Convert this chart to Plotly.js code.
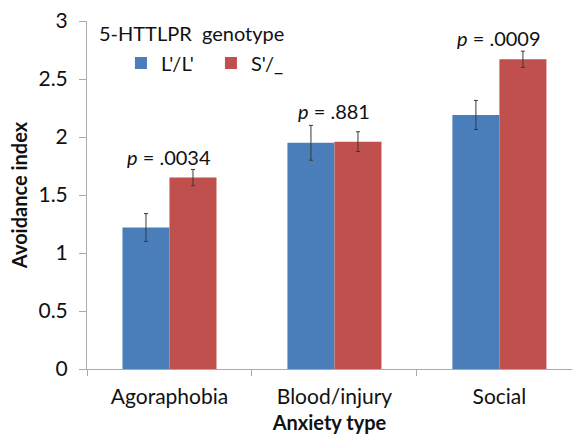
<!DOCTYPE html>
<html>
<head>
<meta charset="utf-8">
<script src="https://cdn.plot.ly/plotly-3.0.1.min.js"></script>
<style>html,body{margin:0;padding:0;background:#fff;}#chart{width:572px;height:435px;}</style>
</head>
<body>
<div id="chart"></div>
<script>
var categories = ["Agoraphobia", "Blood/injury", "Social"];
var seriesNames = ["L'/L'", "S'/_"];
var llValues = [1.22, 1.95, 2.19];
var llErrors = [0.12, 0.15, 0.125];
var sValues = [1.65, 1.96, 2.67];
var sErrors = [0.07, 0.085, 0.07];
var pLabels = ["<i>p</i> = .0034", "<i>p</i> = .881", "<i>p</i> = .0009"];
var pHeights = [1.83, 2.22, 2.85];
var yTicks = [0, 0.5, 1, 1.5, 2, 2.5, 3];
var yTickLabels = ["0", "0.5", "1", "1.5", "2", "2.5", "3"];

var FONT = "Lato, 'Open Sans', sans-serif";
var errStyle = {type: "data", visible: true, color: "#3a3a3a", thickness: 1, width: 2};

var traces = [
  {type: "bar", name: seriesNames[0], x: categories, y: llValues,
   marker: {color: "#4a7ebb"},
   error_y: Object.assign({array: llErrors}, errStyle)},
  {type: "bar", name: seriesNames[1], x: categories, y: sValues,
   marker: {color: "#c0504d"},
   error_y: Object.assign({array: sErrors}, errStyle)}
];

var annotations = categories.map(function (c, i) {
  return {x: c, y: pHeights[i], xref: "x", yref: "y", text: pLabels[i],
    showarrow: false, font: {family: FONT, size: 20, color: "#111"}, yanchor: "middle"};
});
annotations.push({xref: "paper", yref: "paper", x: 0.02, y: 1.0, xanchor: "left", yanchor: "middle",
  yshift: -12, text: "5-HTTLPR  genotype", showarrow: false,
  font: {family: FONT, size: 20, color: "#111"}});

var layout = {
  width: 572, height: 435,
  margin: {l: 87, r: 0, t: 21, b: 66, pad: 0},
  paper_bgcolor: "#fff", plot_bgcolor: "#fff",
  barmode: "group", bargap: 0.43, bargroupgap: 0,
  font: {family: FONT, size: 20, color: "#111"},
  showlegend: true,
  legend: {orientation: "h", x: 0.07, y: 0.935, xanchor: "left", yanchor: "top",
    font: {family: FONT, size: 20, color: "#111"}, bgcolor: "rgba(0,0,0,0)",
    itemwidth: 30, tracegroupgap: 0, entrywidth: 45, entrywidthmode: "pixels"},
  xaxis: {type: "category", range: [-0.5, 2.44], showgrid: false, zeroline: false,
    showline: true, linecolor: "#aaaaaa", linewidth: 1,
    ticks: "outside", tickson: "boundaries", ticklen: 6, tickcolor: "#aaaaaa",
    ticklabelstandoff: 9,
    tickfont: {family: FONT, size: 21, color: "#111"},
    title: {text: "<b>Anxiety type</b>", font: {family: FONT, size: 20, color: "#111"}, standoff: 8}},
  yaxis: {range: [0, 3], tickvals: yTicks, ticktext: yTickLabels, showgrid: false,
    zeroline: false, showline: true, linecolor: "#aaaaaa", linewidth: 1,
    ticks: "outside", ticklen: 7, tickcolor: "#aaaaaa",
    ticklabelstandoff: 7,
    tickfont: {family: FONT, size: 21, color: "#111"},
    title: {text: "<b>Avoidance index</b>", font: {family: FONT, size: 20, color: "#111"}, standoff: 5}},
  annotations: annotations
};

Plotly.newPlot("chart", traces, layout, {displayModeBar: false, staticPlot: true});
</script>
</body>
</html>
